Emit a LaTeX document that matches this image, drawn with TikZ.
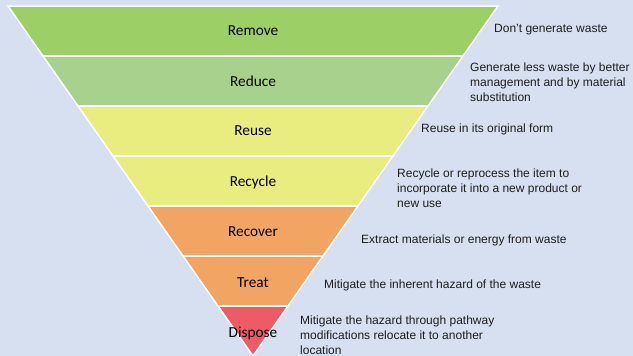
\documentclass[tikz,border=0pt]{standalone}
\usepackage{fontspec}
\setmainfont{Carlito}
\newfontfamily\descfont{Liberation Sans}
\usepackage{tikz}
\definecolor{bg}{HTML}{D6E0F0}
\definecolor{c_remove}{HTML}{9CCF65}
\definecolor{c_reduce}{HTML}{A9D18E}
\definecolor{c_yellow}{HTML}{E9EC7E}
\definecolor{c_orange}{HTML}{F2A462}
\definecolor{c_red}{HTML}{ED5C66}
\definecolor{desc_text}{HTML}{1E1E1E}

\begin{document}
\begin{tikzpicture}[x=1pt,y=-1pt]
\tikzstyle{band}=[draw=white,line width=1.5pt,line join=miter]
\tikzstyle{band_label}=[font=\fontsize{15.3}{18}\selectfont,text=black,inner sep=0]
\tikzstyle{desc}=[anchor=west,align=left,inner sep=0,text=desc_text,font=\descfont\fontsize{12}{15}\selectfont]
\fill[bg] (0,0) rectangle (633,356);
\useasboundingbox (0,0) rectangle (633,356);

% the inverted pyramid, top to bottom
\draw[band,fill=c_remove] (8,6)--(498,6)--(463,56)--(43,56)--cycle;
\draw[band,fill=c_reduce] (43,56)--(463,56)--(428,106)--(78,106)--cycle;
\draw[band,fill=c_yellow] (78,106)--(428,106)--(393,156)--(113,156)--cycle;
\draw[band,fill=c_yellow] (113,156)--(393,156)--(358,206)--(148,206)--cycle;
\draw[band,fill=c_orange] (148,206)--(358,206)--(323,256)--(183,256)--cycle;
\draw[band,fill=c_orange] (183,256)--(323,256)--(288,306)--(218,306)--cycle;
\draw[band,fill=c_red] (218,306)--(288,306)--(253,356)--cycle;

\node[band_label] (label_remove) at (253,31){Remove};
\node[band_label] (label_reduce) at (253,81){Reduce};
\node[band_label] (label_reuse) at (253,131){Reuse};
\node[band_label] (label_recycle) at (253,182){Recycle};
\node[band_label] (label_recover) at (253,232){Recover};
\node[band_label] (label_treat) at (253,283){Treat};
\node[band_label] (label_dispose) at (253,333){Dispose};

\node[desc] (desc_remove) at (494,30){Don’t generate waste};
\node[desc] (desc_reduce) at (470,82){Generate less waste by better\\management and by material\\substitution};
\node[desc] (desc_reuse) at (421,129){Reuse in its original form};
\node[desc] (desc_recycle) at (397,188){Recycle or reprocess the item to\\incorporate it into a new product or\\new use};
\node[desc] (desc_recover) at (361,240){Extract materials or energy from waste};
\node[desc] (desc_treat) at (324,285){Mitigate the inherent hazard of the waste};
\node[desc] (desc_dispose) at (300,335){Mitigate the hazard through pathway\\modifications relocate it to another\\location};
\end{tikzpicture}
\end{document}
